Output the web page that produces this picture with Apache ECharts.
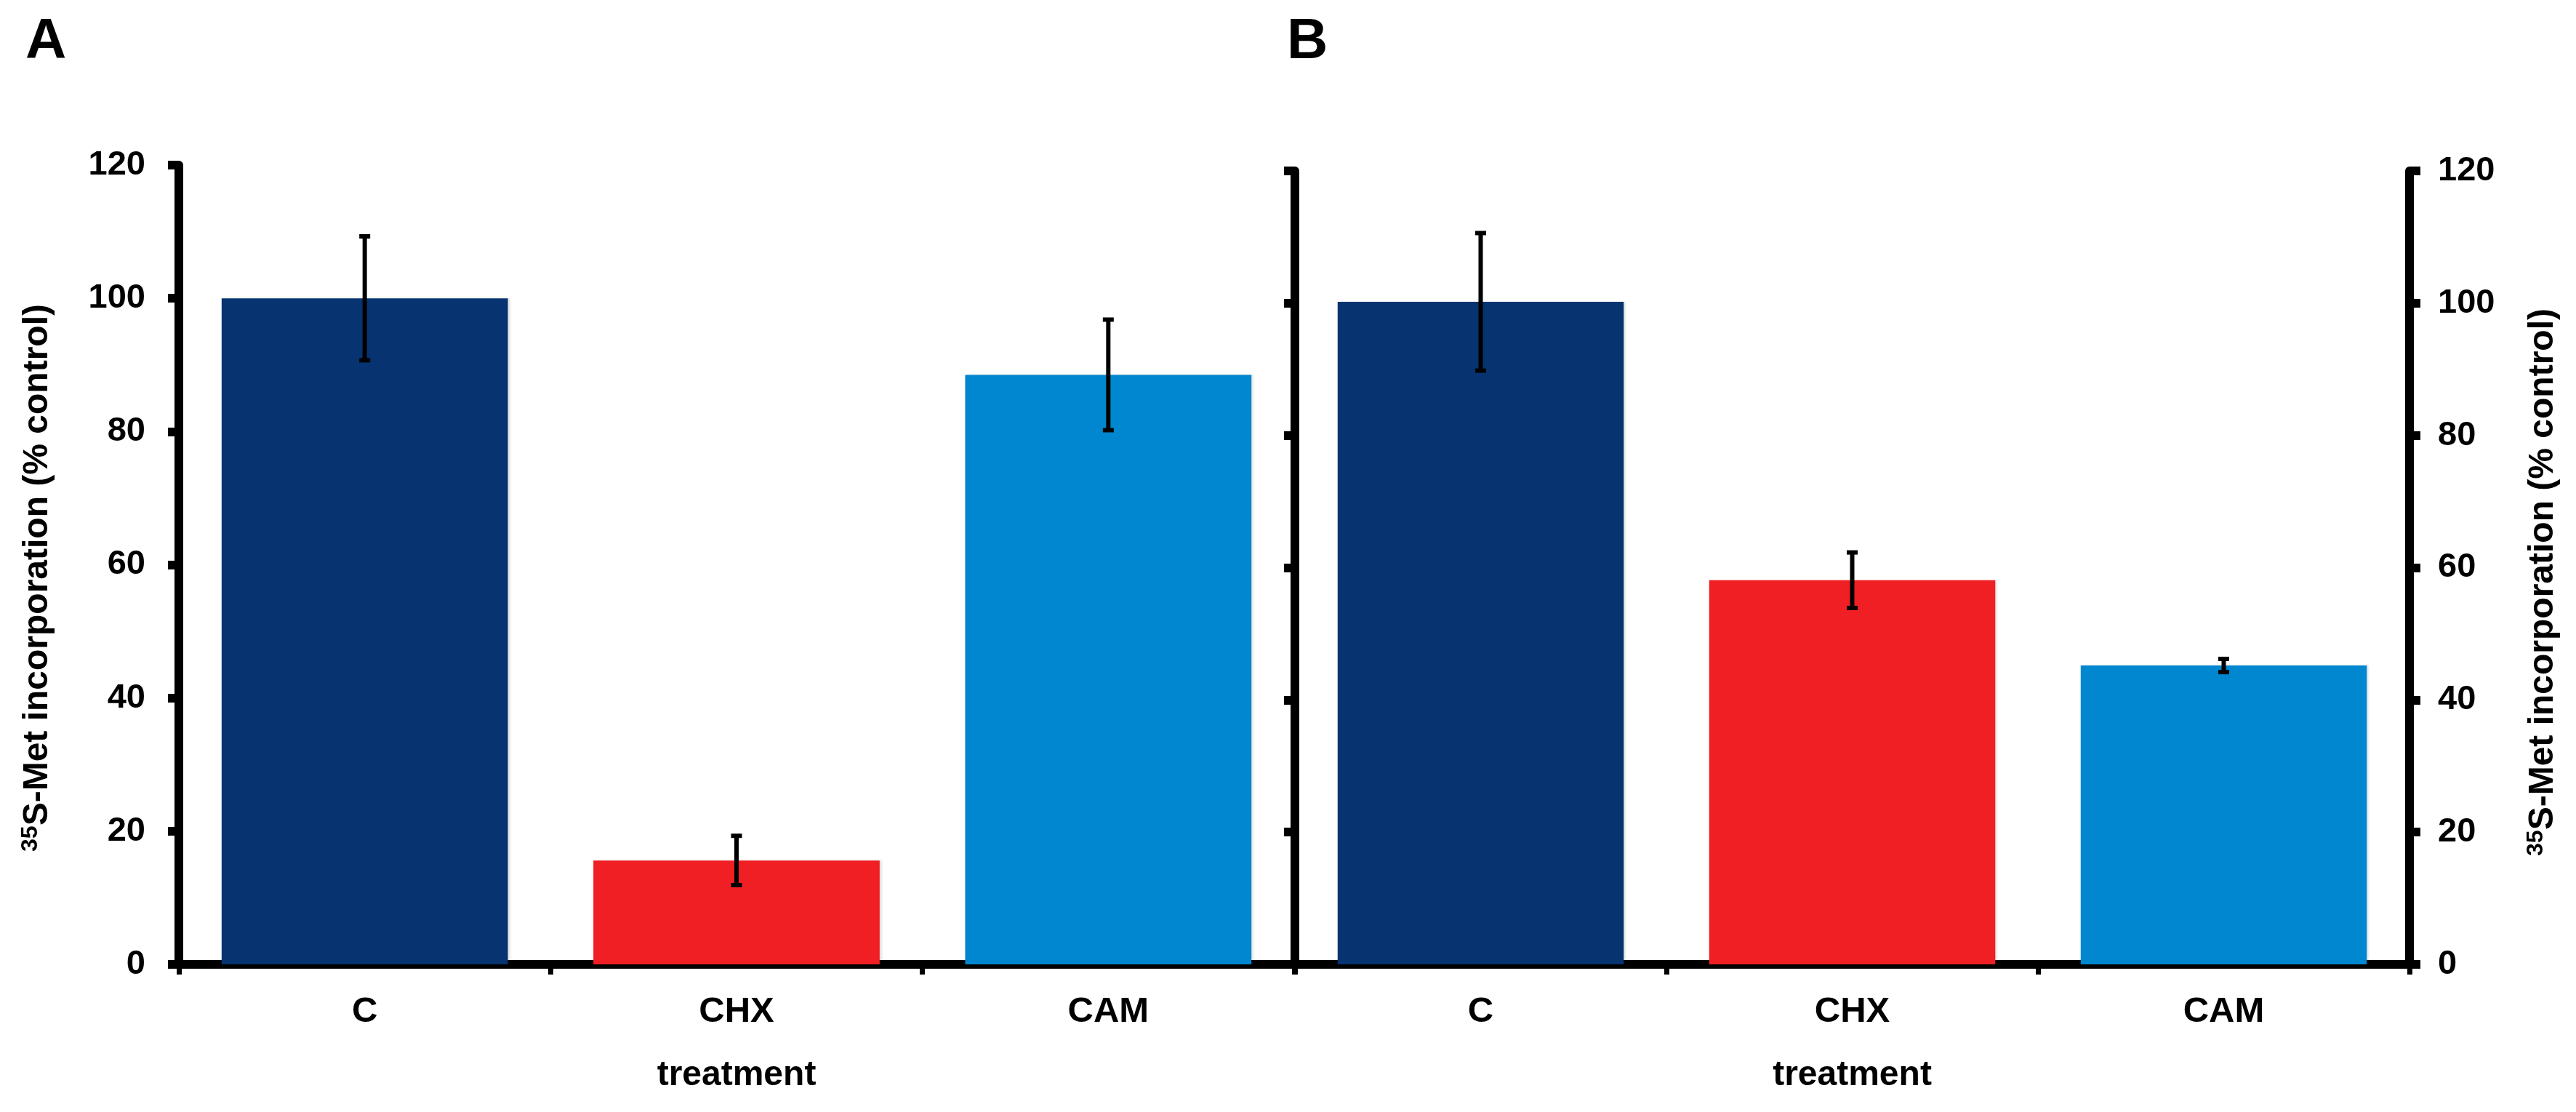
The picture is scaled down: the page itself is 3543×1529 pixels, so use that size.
<!DOCTYPE html>
<html>
<head>
<meta charset="utf-8">
<script src="https://cdn.jsdelivr.net/npm/echarts@6/dist/echarts.min.js"></script>
<style>
html,body{margin:0;padding:0;background:#fff;}
#chart{width:3543px;height:1529px;}
</style>
</head>
<body>
<div id="chart"></div>
<script>
// ---- data ----
const categories = ['C', 'CHX', 'CAM'];
const meanA = [100, 15.6, 88.5];
const errA = [9.3, 3.7, 8.3];
const meanB = [100.2, 58.1, 45.2];
const errB = [10.4, 4.2, 1.0];
const yTicks = [0, 20, 40, 60, 80, 100, 120];
const xName = 'treatment';
const yName = '{sup|35}{main|S-Met incorporation (% control)}';

// ---- style ----
const barColors = ['#073370', '#F01F24', '#0087CF'];
const FONT = '"Liberation Sans", Arial, Helvetica, sans-serif';
const AXIS_W = 12;

const chart = echarts.init(document.getElementById('chart'), null, {renderer: 'canvas'});

function catAxis(gridIndex) {
  return {
    type: 'category', gridIndex, data: categories,
    boundaryGap: true,
    name: xName, nameLocation: 'middle', nameGap: 129, nameMoveOverlap: false,
    nameTextStyle: {fontFamily: FONT, fontSize: 48, fontWeight: 'bold', color: '#000'},
    axisLine: {show: true, onZero: false, lineStyle: {color: '#000', width: AXIS_W}},
    axisTick: {show: true, alignWithLabel: false, length: 14, lineStyle: {color: '#000', width: 7}},
    axisLabel: {show: true, margin: 41, fontFamily: FONT, fontSize: 49, fontWeight: 'bold', color: '#000'},
    splitLine: {show: false}
  };
}
const richName = {
  sup: {fontFamily: FONT, fontSize: 32, fontWeight: 'bold', color: '#000', verticalAlign: 'top', lineHeight: 52},
  main: {fontFamily: FONT, fontSize: 48, fontWeight: 'bold', color: '#000', lineHeight: 52}
};
function valAxis(gridIndex, position, showLabel, showName, margin, nameGap, pad) {
  return {
    type: 'value', gridIndex, position,
    min: yTicks[0], max: yTicks[yTicks.length - 1], interval: yTicks[1] - yTicks[0],
    name: showName ? yName : '', nameLocation: 'middle', nameRotate: 90, nameGap: nameGap,
    nameMoveOverlap: false,
    nameTextStyle: {fontFamily: FONT, fontSize: 48, fontWeight: 'bold', color: '#000', rich: richName, padding: pad},
    axisLine: {show: true, onZero: false, lineStyle: {color: '#000', width: AXIS_W}},
    axisTick: {show: true, inside: false, length: 15, lineStyle: {color: '#000', width: 12}},
    axisLabel: {show: showLabel, margin: margin, fontFamily: FONT, fontSize: 47, fontWeight: 'bold', color: '#000'},
    splitLine: {show: false}
  };
}

function barSeries(idx, values) {
  return {
    type: 'bar', xAxisIndex: idx, yAxisIndex: idx === 0 ? 0 : 1,
    barCategoryGap: '23%', z: 2,
    data: values.map((v, i) => ({value: v, itemStyle: {color: barColors[i]}})),
    itemStyle: {shadowColor: 'rgba(0,0,0,0.12)', shadowBlur: 3, shadowOffsetX: 3, shadowOffsetY: 0},
    emphasis: {disabled: true}, silent: true
  };
}
function errSeries(idx, means, errs) {
  return {
    type: 'custom', xAxisIndex: idx, yAxisIndex: idx === 0 ? 0 : 1, z: 5, silent: true,
    data: means.map((m, i) => [i, m - errs[i], m + errs[i]]),
    encode: {x: 0, y: [1, 2]},
    renderItem: function (params, api) {
      const x = api.value(0);
      const pLo = api.coord([x, api.value(1)]);
      const pHi = api.coord([x, api.value(2)]);
      const hw = 7.5;
      const st = {stroke: '#000', lineWidth: 6};
      return {type: 'group', children: [
        {type: 'line', shape: {x1: pHi[0], y1: pHi[1], x2: pLo[0], y2: pLo[1]}, style: st},
        {type: 'line', shape: {x1: pHi[0] - hw, y1: pHi[1], x2: pHi[0] + hw, y2: pHi[1]}, style: st},
        {type: 'line', shape: {x1: pLo[0] - hw, y1: pLo[1], x2: pLo[0] + hw, y2: pLo[1]}, style: st}
      ]};
    }
  };
}

const option = {
  backgroundColor: '#ffffff',
  animation: false,
  title: [
    {text: 'A', left: 30, top: 14, textStyle: {fontFamily: FONT, fontSize: 78, fontWeight: 'bold', color: '#000'}},
    {text: 'B', left: 1765, top: 14, textStyle: {fontFamily: FONT, fontSize: 78, fontWeight: 'bold', color: '#000'}}
  ],
  grid: [
    {left: 246, top: 227, width: 1534, height: 1099, containLabel: false, outerBoundsMode: 'none'},
    {left: 1781, top: 235, width: 1533, height: 1091, containLabel: false, outerBoundsMode: 'none'}
  ],
  xAxis: [catAxis(0), catAxis(1)],
  yAxis: [
    valAxis(0, 'left', true, true, 46, 168, [0, 36, 0, 0]),
    valAxis(1, 'left', false, false, 46, 160, 0),
    valAxis(1, 'right', true, true, 39, 158, [0, 40, 0, 0])
  ],
  series: [
    barSeries(0, meanA), errSeries(0, meanA, errA),
    barSeries(1, meanB), errSeries(1, meanB, errB)
  ]
};
chart.setOption(option);
</script>
</body>
</html>
